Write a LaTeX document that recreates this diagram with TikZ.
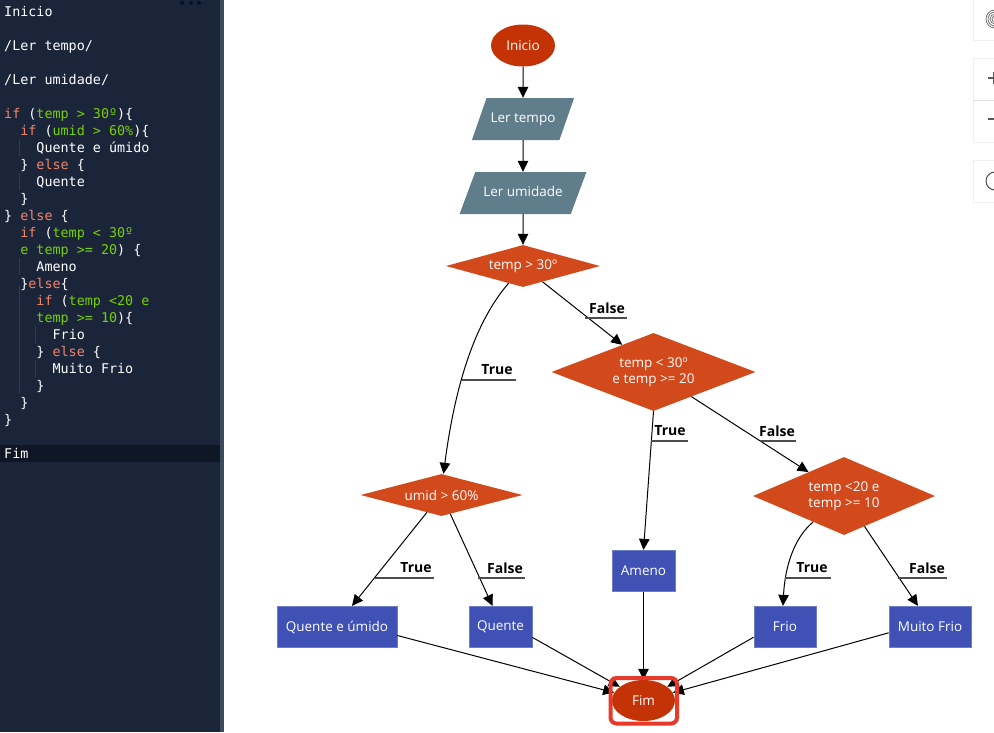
\documentclass[tikz,border=0pt]{standalone}
\usepackage{fontspec}
\setmainfont{Open Sans}
\newfontfamily\codefont{DejaVu Sans Mono}
\usetikzlibrary{arrows.meta,shapes.geometric}
\definecolor{panelbg}{HTML}{1A253A}
\definecolor{panelbar}{HTML}{3B4A5E}
\definecolor{panelrow}{HTML}{0F1726}
\definecolor{guideline}{HTML}{2F3B52}
\definecolor{kwcolor}{HTML}{F0856A}
\definecolor{condcolor}{HTML}{78D000}
\definecolor{endcolor}{HTML}{C43305}
\definecolor{iocolor}{HTML}{607D8B}
\definecolor{testcolor}{HTML}{D2491B}
\definecolor{stepcolor}{HTML}{3F51B5}
\definecolor{marksel}{HTML}{E8392A}
\tikzset{
	txt/.style={text=white, font=\fontsize{13.5}{15.5}\selectfont, align=center, inner sep=0},
	terminal/.style={txt, ellipse, fill=endcolor, minimum width=64pt, minimum height=42pt},
	inout/.style={txt, trapezium, trapezium left angle=47, trapezium right angle=133, trapezium stretches=true, text height=10pt, text depth=4pt, fill=iocolor, minimum height=42pt},
	test/.style={txt, diamond, fill=testcolor},
	stepbox/.style={txt, fill=stepcolor, draw=stepcolor!75!white, line width=0.7pt, minimum height=41.5pt},
	flow/.style={line width=1pt, -{Triangle[length=11pt,width=10.5pt]}},
	tagtext/.style={font=\fontsize{14}{15}\bfseries\selectfont, text=black, inner sep=0},
	codeline/.style={anchor=base west, inner sep=0, text=white, font=\codefont\fontsize{13.4}{17}\selectfont},
	toolbox/.style={fill=white, draw=black!6},
}
\newcommand{\kw}[1]{\textcolor{kwcolor}{#1}}
\newcommand{\cnd}[1]{\textcolor{condcolor}{#1}}
\def\codeat#1#2#3{\node[codeline] (code#1) at ({4+8.07*#2}, {-0.5+17*#1}) {#3};}
\def\edgetag(#1:#2:#3:#4)#5#6{\draw[black!70, line width=1.1pt] (#1, #3) -- (#2, #3);
	\node[tagtext] (#5) at (#4, #3-10) {#6};}

\begin{document}
\begin{tikzpicture}[x=1pt, y=-1pt]
	\useasboundingbox (0, 0) rectangle (994, 732);
	\fill[white] (0, 0) rectangle (994, 732);

	% editor panel
	\fill[panelbg] (0, 0) rectangle (220, 732);
	\fill[panelbar] (220, 0) rectangle (224, 732);
	\fill[panelrow] (0, 445) rectangle (220, 462);
	\fill[black!45!panelbg] (29, 445) rectangle (30, 462);
	\foreach \dotx in {182, 191, 199}
		\fill[panelbar!130] (\dotx, 3) circle (2);
	\foreach \guidex/\ya/\yb in {19.5/139/156, 19.5/173/190, 19.5/258/275, 19.5/285/393, 35.5/326/343, 35.5/360/377}
		\draw[guideline] (\guidex, \ya) -- (\guidex, \yb);

	\codeat{1}{0}{Inicio}
	\codeat{3}{0}{/Ler tempo/}
	\codeat{5}{0}{/Ler umidade/}
	\codeat{7}{0}{\kw{if} (\cnd{temp > 30º})\{}
	\codeat{8}{2}{\kw{if} (\cnd{umid > 60\%})\{}
	\codeat{9}{4}{Quente e úmido}
	\codeat{10}{2}{\} \kw{else} \{}
	\codeat{11}{4}{Quente}
	\codeat{12}{2}{\}}
	\codeat{13}{0}{\} \kw{else} \{}
	\codeat{14}{2}{\kw{if} (\cnd{temp < 30º}}
	\codeat{15}{2}{\cnd{e temp >= 20}) \{}
	\codeat{16}{4}{Ameno}
	\codeat{17}{2}{\}\kw{else}\{}
	\codeat{18}{4}{\kw{if} (\cnd{temp <20 e}}
	\codeat{19}{4}{\cnd{temp >= 10})\{}
	\codeat{20}{6}{Frio}
	\codeat{21}{4}{\} \kw{else} \{}
	\codeat{22}{6}{Muito Frio}
	\codeat{23}{4}{\}}
	\codeat{24}{2}{\}}
	\codeat{25}{0}{\}}
	\codeat{27}{0}{Fim}

	% zoom buttons, cut by the window edge
	\begin{scope}
		\clip (0, 0) rectangle (994, 732);
		\draw[toolbox] (973, -5) rectangle (1000, 40);
		\draw[toolbox] (973, 58) rectangle (1000, 142);
		\draw[toolbox] (973, 160) rectangle (1000, 202);
		\draw[black!12] (973, 100) -- (1000, 100);
		\foreach \ringr in {3, 5, 7, 9}
			\draw[black!60, line width=0.7pt] (995, 19) circle (\ringr);
		\draw[black!65, line width=1.2pt] (988, 78) -- (1000, 78) (994, 72) -- (994, 84);
		\draw[black!65, line width=1.2pt] (988, 119) -- (1000, 119);
		\draw[black!70, line width=1pt] (995, 181) circle (9);
	\end{scope}

	% flowchart
	\node[terminal] (inicio) at (523, 45.5) {Inicio};
	\node[inout, minimum width=103pt] (lertempo) at (523, 119) {Ler tempo};
	\node[inout, minimum width=127pt] (lerumid) at (523, 193) {Ler umidade};
	\node[test, shape aspect=3.67, minimum width=154pt, minimum height=42pt] (temptrinta) at (523, 266) {temp > 30º};
	\node[test, shape aspect=2.6, minimum width=204pt, minimum height=78pt] (tempvinte) at (653.5, 372) {temp < 30º\\e temp >= 20};
	\node[test, shape aspect=3.85, minimum width=162pt, minimum height=42pt] (umid) at (441.5, 495) {umid > 60\%};
	\node[test, shape aspect=2.33, minimum width=182pt, minimum height=78pt] (tempdez) at (844, 496) {temp <20 e\\temp >= 10};
	\node[stepbox, minimum width=120pt] (qumido) at (337, 627) {Quente e úmido};
	\node[stepbox, minimum width=63pt] (quente) at (500.5, 627) {Quente};
	\node[stepbox, minimum width=63pt] (ameno) at (643.5, 571) {Ameno};
	\node[stepbox, minimum width=62pt] (frio) at (785, 627) {Frio};
	\node[stepbox, minimum width=82pt] (mfrio) at (930, 627) {Muito Frio};
	\node[terminal, minimum width=63pt, minimum height=41pt] (fim) at (643.5, 700.5) {Fim};

	\draw[flow] (inicio) -- (lertempo);
	\draw[flow] (lertempo) -- (lerumid);
	\draw[flow] (lerumid) -- (temptrinta);
	\draw[flow] (temptrinta.230) .. controls (475, 322) and (455, 385) .. ([xshift=2pt]umid.north);
	\draw[flow] (temptrinta.-39) -- (tempvinte.139);
	\draw[flow] (tempvinte.south) -- (ameno.north);
	\draw[flow] (tempvinte.-33) -- (tempdez.146);
	\draw[flow] (umid.-130) -- ([xshift=15pt]qumido.north);
	\draw[flow] (umid.-65) -- ([xshift=-8pt]quente.north);
	\draw[flow] (tempdez.220) .. controls (795, 537) and (785, 565) .. ([xshift=-2pt]frio.north);
	\draw[flow] (tempdez.-56) -- ([xshift=-12pt]mfrio.north);
	\draw[flow] (qumido.-8) -- (fim.165);
	\draw[flow] (quente.-18) -- (fim.150);
	\draw[flow] (ameno.south) -- (fim.north);
	\draw[flow] (frio.198) -- (fim.30);
	\draw[flow] (mfrio.188) -- (fim.15);

	\edgetag(462:516:380:497){tagtrue}{True}
	\edgetag(585:627:318:607){tagfalse}{False}
	\edgetag(651:688:441:670){tagtrueb}{True}
	\edgetag(760:796:441:777){tagfalseb}{False}
	\edgetag(375:434:578:416){tagtruec}{True}
	\edgetag(478:525:578:505){tagfalsec}{False}
	\edgetag(785:831:578:812){tagtrued}{True}
	\edgetag(898:947:578:927){tagfalsed}{False}

	\draw[marksel, line width=4pt, rounded corners=6pt] (610.5, 678) rectangle (677, 723.5);
\end{tikzpicture}
\end{document}
